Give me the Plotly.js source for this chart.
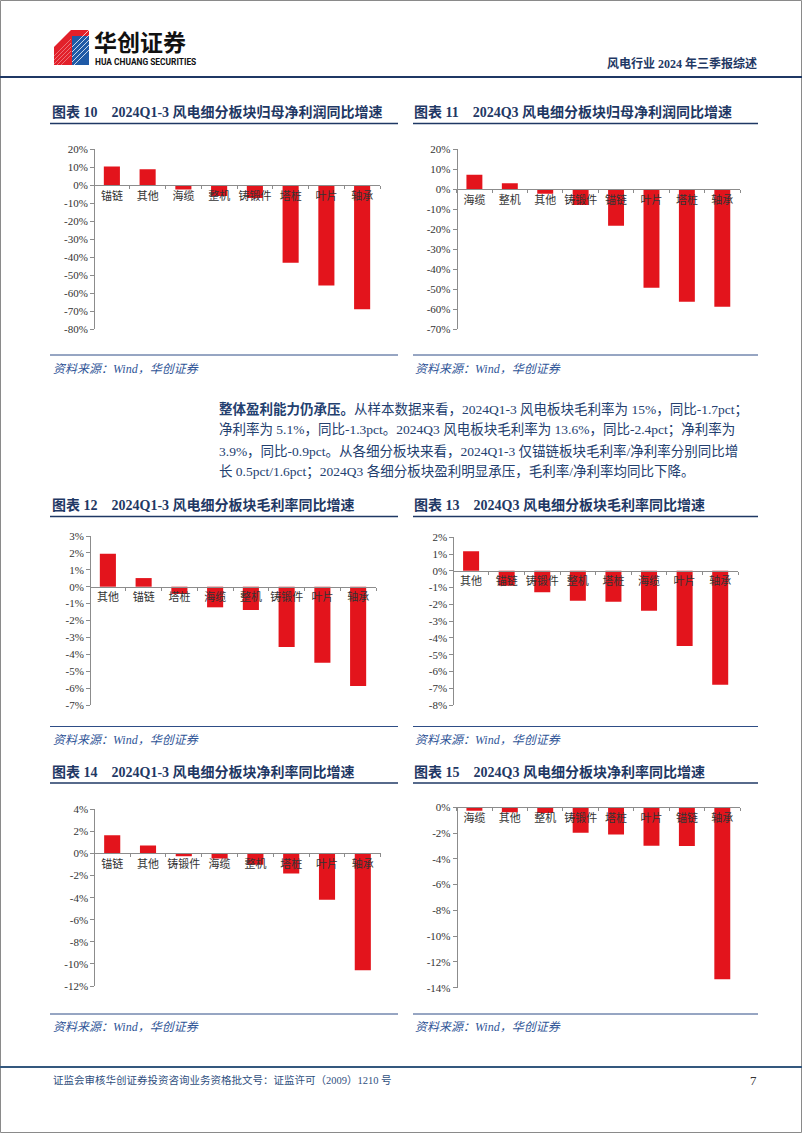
<!DOCTYPE html>
<html><head><meta charset="utf-8">
<script src="https://cdn.plot.ly/plotly-3.0.1.min.js"></script>
<style>html,body{margin:0;padding:0;background:#fff;}#page{width:802px;height:1133px;}</style>
</head><body><div id="page"></div>
<script>
// ---- data ----
const cats10 = ['锚链','其他','海缆','整机','铸锻件','塔桩','叶片','轴承'];
const vals10 = [10.4, 8.9, -2.4, -6.0, -7.0, -43.0, -55.6, -68.9];
const ticks10 = [20,10,0,-10,-20,-30,-40,-50,-60,-70,-80];

const cats11 = ['海缆','整机','其他','铸锻件','锚链','叶片','塔桩','轴承'];
const vals11 = [7.3, 3.0, -2.2, -7.8, -18.2, -49.2, -56.2, -58.7];
const ticks11 = [20,10,0,-10,-20,-30,-40,-50,-60,-70];

const cats12 = ['其他','锚链','塔桩','海缆','整机','铸锻件','叶片','轴承'];
const vals12 = [1.95, 0.51, -0.43, -1.22, -1.38, -3.57, -4.50, -5.88];
const ticks12 = [3,2,1,0,-1,-2,-3,-4,-5,-6,-7];

const cats13 = ['其他','锚链','铸锻件','整机','塔桩','海缆','叶片','轴承'];
const vals13 = [1.17, -0.89, -1.27, -1.79, -1.85, -2.38, -4.48, -6.79];
const ticks13 = [2,1,0,-1,-2,-3,-4,-5,-6,-7,-8];

const cats14 = ['锚链','其他','铸锻件','海缆','整机','塔桩','叶片','轴承'];
const vals14 = [1.66, 0.73, -0.24, -0.45, -1.03, -1.81, -4.20, -10.57];
const ticks14 = [4,2,0,-2,-4,-6,-8,-10,-12];

const cats15 = ['海缆','其他','整机','铸锻件','塔桩','叶片','锚链','轴承'];
const vals15 = [-0.26, -0.39, -0.44, -1.97, -2.12, -2.99, -3.00, -13.34];
const ticks15 = [0,-2,-4,-6,-8,-10,-12,-14];

const titles = [
  '图表 10　2024Q1-3 风电细分板块归母净利润同比增速',
  '图表 11　2024Q3 风电细分板块归母净利润同比增速',
  '图表 12　2024Q1-3 风电细分板块毛利率同比增速',
  '图表 13　2024Q3 风电细分板块毛利率同比增速',
  '图表 14　2024Q1-3 风电细分板块净利率同比增速',
  '图表 15　2024Q3 风电细分板块净利率同比增速'
];
const sourceText = '资料来源：Wind，华创证券';
const paraLines = [
  '<b>整体盈利能力仍承压。</b>从样本数据来看，2024Q1-3 风电板块毛利率为 15%，同比-1.7pct；',
  '净利率为 5.1%，同比-1.3pct。2024Q3 风电板块毛利率为 13.6%，同比-2.4pct；净利率为',
  '3.9%，同比-0.9pct。从各细分板块来看，2024Q1-3 仅锚链板块毛利率/净利率分别同比增',
  '长 0.5pct/1.6pct；2024Q3 各细分板块盈利明显承压，毛利率/净利率均同比下降。'
];
const headerRight = '风电行业 2024 年三季报综述';
const footerText = '证监会审核华创证券投资咨询业务资格批文号：证监许可（2009）1210 号';
const pageNo = '7';

// ---- layout helpers ----
const W = 802, H = 1133;
const px = x => x / W, py = y => 1 - y / H;
const SERIF = '"Liberation Serif","Times New Roman","Noto Sans CJK SC",serif';
const RED = '#e3141c', NAVY = '#1f3864', TXT = '#23406f', AX = '#8c8c8c';

const charts = [
  {cats: cats10, vals: vals10, ticks: ticks10, box: [94, 380, 149.3, 329.3]},
  {cats: cats11, vals: vals11, ticks: ticks11, box: [456.7, 740, 149.3, 329.3]},
  {cats: cats12, vals: vals12, ticks: ticks12, box: [90, 376, 536, 705]},
  {cats: cats13, vals: vals13, ticks: ticks13, box: [453.3, 738, 537.3, 705]},
  {cats: cats14, vals: vals14, ticks: ticks14, box: [94.3, 380.7, 809.3, 986]},
  {cats: cats15, vals: vals15, ticks: ticks15, box: [456.7, 740, 807.3, 987.7]}
];

const data = [];
const layout = {
  width: W, height: H, margin: {l: 0, r: 0, t: 0, b: 0},
  paper_bgcolor: '#fff', plot_bgcolor: 'rgba(0,0,0,0)',
  showlegend: false, bargap: 0.55, shapes: [], annotations: [],
  font: {family: SERIF}
};

charts.forEach((c, i) => {
  const k = i === 0 ? '' : String(i + 1);
  const [x0, x1, yt, yb] = c.box;
  const d0 = py(yb), d1 = py(yt);
  const rmin = Math.min(...c.ticks), rmax = Math.max(...c.ticks);
  const zf = (0 - rmin) / (rmax - rmin);
  data.push({type: 'bar', x: c.cats, y: c.vals, xaxis: 'x' + k, yaxis: 'y' + k,
    marker: {color: RED, line: {width: 0}}, hoverinfo: 'skip'});
  layout['xaxis' + k] = {
    domain: [px(x0), px(x1)], anchor: 'free', position: d0 + zf * (d1 - d0),
    type: 'category', showline: true, linecolor: AX, linewidth: 1,
    ticks: 'outside', tickson: 'boundaries', ticklen: 3, tickcolor: AX, tickangle: 0,
    tickfont: {family: SERIF, size: 11, color: '#333'},
    showgrid: false, zeroline: false, fixedrange: true
  };
  layout['yaxis' + k] = {
    domain: [d0, d1], anchor: 'free', position: px(x0), range: [rmin, rmax],
    tickmode: 'array', tickvals: c.ticks, ticktext: c.ticks.map(v => v + '%'),
    showline: true, linecolor: AX, linewidth: 1, ticks: 'outside', ticklen: 4, tickcolor: AX,
    tickfont: {family: SERIF, size: 11, color: '#333'},
    showgrid: false, zeroline: false, fixedrange: true
  };
});

function hline(x0, x1, y, color, w) {
  layout.shapes.push({type: 'line', xref: 'paper', yref: 'paper', x0: px(x0), x1: px(x1), y0: py(y), y1: py(y), line: {color: color, width: w}});
}
function text(t, x, y, size, color, anchor, extra) {
  layout.annotations.push(Object.assign({xref: 'paper', yref: 'paper', x: px(x), y: py(y), text: t, showarrow: false,
    xanchor: anchor || 'left', yanchor: 'middle', font: {family: SERIF, size: size, color: color}, borderpad: 0}, extra || {}));
}
function path(pts, fill) {
  const d = pts.map((p, j) => (j ? 'L' : 'M') + px(p[0]) + ',' + py(p[1])).join(' ') + ' Z';
  layout.shapes.push({type: 'path', xref: 'paper', yref: 'paper', path: d, fillcolor: fill, line: {width: 0}});
}

// page border
layout.shapes.push({type: 'rect', xref: 'paper', yref: 'paper', x0: px(0.5), x1: px(801.5), y0: py(1132.5), y1: py(0.5), line: {color: '#8a8a8a', width: 1}});

// header logo
path([[54,47],[71,30],[89,30],[89,36],[72,36],[72,65],[54,65]], '#e2202a');
path([[72,36],[89,36],[89,65],[72,65]], '#1f5aa6');
for (let j = 0; j < 5; j++) {
  layout.shapes.push({type: 'line', xref: 'paper', yref: 'paper', x0: px(72), y0: py(47 + 5 * j), x1: px(89), y1: py(30 + 5 * j), line: {color: 'rgba(255,255,255,0.75)', width: 1}});
  layout.shapes.push({type: 'line', xref: 'paper', yref: 'paper', x0: px(54), y0: py(56 + 4 * j), x1: px(71), y1: py(39 + 4 * j), line: {color: 'rgba(255,255,255,0.45)', width: 0.8}});
}
text('<b>华创证券</b>', 93, 41.5, 23, '#111', 'left', {font: {family: '"Noto Sans CJK SC",sans-serif', size: 23, color: '#111'}});
text('<b>HUA CHUANG SECURITIES</b>', 94, 62.5, 8.4, '#111', 'left', {font: {family: 'Roboto,"DejaVu Sans",sans-serif', size: 8.4, color: '#111'}});
text('<b>' + headerRight + '</b>', 758, 63, 12, NAVY, 'right');
hline(0, 802, 77, NAVY, 2);

// chart titles, underlines, sources
const titleY = [112, 112, 505, 505, 772, 772];
const ulY = [123.5, 123.5, 516.5, 516.5, 783, 783];
const srcLineY = [355, 355, 726.5, 726.5, 1014, 1014];
const srcY = [369, 369, 740, 740, 1027, 1027];
titles.forEach((t, i) => {
  const left = i % 2 === 0;
  const tx = left ? 51 : 413;
  const lx0 = left ? 50 : 413, lx1 = left ? 398 : 758;
  text('<b>' + t + '</b>', tx, titleY[i], 14, NAVY);
  hline(lx0, lx1, ulY[i], NAVY, 1.5);
  hline(lx0, lx1, srcLineY[i], '#2e4d86', 1);
  text('<i>' + sourceText + '</i>', tx + 1, srcY[i], 12, '#2f5597');
});

// paragraph
const paraY = [409.5, 430, 450.5, 471];
paraLines.forEach((t, i) => text(t, 218, paraY[i], 13.5, TXT));

// footer
hline(0, 802, 1067, '#34587e', 2);
text(footerText, 52, 1080, 10.5, '#2f4f80');
text(pageNo, 758, 1080, 13, '#333', 'right');

Plotly.newPlot('page', data, layout, {staticPlot: true, displayModeBar: false});
</script>
</body></html>
